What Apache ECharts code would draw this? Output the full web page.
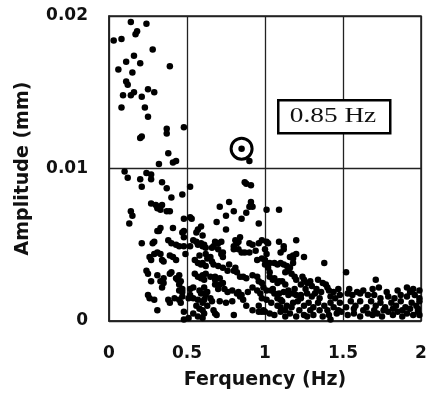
<!DOCTYPE html>
<html>
<head>
<meta charset="utf-8">
<script src="https://cdn.jsdelivr.net/npm/echarts@6/dist/echarts.min.js"></script>
<style>html,body{margin:0;padding:0;background:#fff;}#chart{width:430px;height:403px;}</style>
</head>
<body>
<div id="chart"></div>
<script>
// [frequency (Hz), amplitude (mm)]
var bandBelow05 = [
[0.14,0.0196],[0.24,0.0195],[0.18,0.0190],[0.17,0.0188],[0.03,0.0184],[0.08,0.0185],[0.28,0.0178],[0.16,0.0174],[0.11,0.0170],[0.20,0.0169],[0.39,0.0167],[0.06,0.0165],[0.15,0.0163],[0.11,0.0157],[0.12,0.0155],[0.25,0.0152],[0.29,0.0150],[0.16,0.0150],[0.14,0.0148],[0.09,0.0148],[0.21,0.0147],[0.08,0.0140],[0.23,0.0140],[0.25,0.0134],
[0.37,0.0126],[0.37,0.0123],[0.48,0.0127],[0.21,0.0121],[0.20,0.0120],[0.38,0.0110],[0.43,0.0105],[0.41,0.0104],[0.32,0.0103],
[0.10,0.0098],[0.12,0.0094],[0.24,0.0097],[0.27,0.0096],[0.27,0.0093],[0.20,0.0093],[0.34,0.0091],[0.37,0.0087],[0.21,0.0088],[0.47,0.0083],[0.40,0.0081],
[0.27,0.0077],[0.30,0.0076],[0.32,0.0075],[0.34,0.0076],[0.31,0.0074],[0.33,0.0073],[0.39,0.0072],[0.37,0.0072],[0.14,0.0072],[0.15,0.0069],[0.48,0.0067],[0.13,0.0064],
[0.32,0.0059],[0.31,0.0059],[0.41,0.0061],[0.48,0.0059],[0.33,0.0061],[0.48,0.0055],[0.47,0.0058],
[0.21,0.0051],[0.28,0.0051],[0.29,0.0052],[0.38,0.0053],[0.40,0.0051],[0.43,0.0050],[0.45,0.0049],[0.48,0.0049],
[0.31,0.0045],[0.33,0.0044],[0.29,0.0044],[0.26,0.0042],[0.27,0.0040],[0.39,0.0043],[0.41,0.0042],[0.43,0.0040],[0.34,0.0040],[0.35,0.0039],[0.49,0.0044],
[0.24,0.0033],[0.25,0.0031],[0.31,0.0030],[0.39,0.0031],[0.40,0.0032],[0.45,0.0030],[0.44,0.0027],[0.46,0.0026],[0.35,0.0028],[0.43,0.0028],
[0.27,0.0026],[0.33,0.0026],[0.35,0.0025],[0.34,0.0022],[0.45,0.0024],[0.47,0.0021],[0.45,0.0020],[0.47,0.0019],
[0.25,0.0017],[0.26,0.0015],[0.29,0.0014],[0.38,0.0014],[0.42,0.0015],[0.45,0.0014],[0.47,0.0016],[0.39,0.0012],[0.46,0.0012],
[0.31,0.0007],[0.48,0.0006],[0.48,0.0001]
];
var band05to1 = [
[0.52,0.0088],[0.52,0.0068],[0.53,0.0067],[0.87,0.0091],[0.88,0.0090],[0.91,0.0089],[0.90,0.0105],[0.91,0.0078],[0.91,0.0076],[0.90,0.0075],[0.92,0.0075],[0.77,0.0078],[0.71,0.0075],[0.80,0.0072],[0.75,0.0069],[0.69,0.0065],[0.85,0.0067],[0.88,0.0071],[0.96,0.0064],[0.75,0.0060],[0.59,0.0062],[0.57,0.0060],[0.60,0.0056],[0.84,0.0055],[0.56,0.0058],
[0.81,0.0053],[0.83,0.0052],[0.82,0.0051],[0.90,0.0051],[0.92,0.0050],[0.96,0.0051],[0.61,0.0050],[0.67,0.0049],[0.70,0.0051],[0.72,0.0052],[0.80,0.0047],[0.85,0.0045],[0.87,0.0045],[0.90,0.0045],[0.94,0.0046],
[0.58,0.0043],[0.62,0.0044],[0.65,0.0042],[0.72,0.0044],[0.73,0.0042],
[0.67,0.0037],[0.70,0.0036],[0.73,0.0035],[0.76,0.0033],[0.77,0.0037],[0.80,0.0033],[0.82,0.0032],[0.84,0.0029],[0.86,0.0029],[0.88,0.0028],[0.62,0.0031],[0.65,0.0029],[0.68,0.0027],[0.95,0.0029],[0.96,0.0026],[0.98,0.0025],
[0.71,0.0024],[0.74,0.0021],[0.76,0.0019],[0.79,0.0020],[0.83,0.0019],[0.84,0.0016],[0.92,0.0022],[0.95,0.0020],[0.97,0.0018],[0.98,0.0015],
[0.59,0.0018],[0.61,0.0014],[0.63,0.0010],[0.67,0.0007],[0.69,0.0004],[0.80,0.0004],[0.92,0.0007],[0.96,0.0006],[0.99,0.0007],[0.75,0.0012],[0.79,0.0013],[0.86,0.0014],[0.88,0.0010],
[0.56,0.0052],[0.59,0.0051],[0.52,0.0049],[0.55,0.0040],[0.57,0.0038],[0.60,0.0038],[0.62,0.0036],[0.55,0.0031],[0.57,0.0029],[0.60,0.0030],[0.52,0.0021],[0.54,0.0022],[0.58,0.0020],[0.61,0.0022],[0.51,0.0015],[0.52,0.0017],[0.56,0.0010],[0.58,0.0008],[0.60,0.0007],[0.54,0.0005],[0.57,0.0003],[0.60,0.0002],
[0.54,0.0053],[0.57,0.0050],[0.60,0.0049],[0.62,0.0048],[0.68,0.0052],[0.66,0.0048],[0.70,0.0047],[0.73,0.0045],[0.80,0.0049],[0.83,0.0047],[0.98,0.0053],
[0.59,0.0037],[0.63,0.0041],[0.66,0.0039],[0.81,0.0035],[0.92,0.0030],[0.95,0.0040],[0.98,0.0041],[0.59,0.0028],[0.61,0.0027],[0.68,0.0029],[0.71,0.0028],[0.73,0.0025],
[0.61,0.0018],[0.63,0.0019],[0.68,0.0024],[0.70,0.0021],[0.82,0.0018],[0.85,0.0017],[0.89,0.0019],
[0.54,0.0015],[0.57,0.0014],[0.60,0.0012],[0.62,0.0017],[0.65,0.0015],[0.66,0.0013],[0.71,0.0013],[0.61,0.0005],[0.68,0.0005],[0.96,0.0010],[0.98,0.0006],[0.51,0.0002],[0.99,0.0022]
];
var band1to15 = [
[1.01,0.0073],[1.09,0.0073],[1.01,0.0052],[1.02,0.0051],[1.09,0.0052],[1.12,0.0049],[1.20,0.0053],[1.00,0.0047],[1.01,0.0044],[1.16,0.0042],[1.18,0.0043],[1.20,0.0044],[1.00,0.0040],[1.01,0.0038],[1.02,0.0035],[1.03,0.0032],[1.06,0.0038],[1.10,0.0038],[1.12,0.0037],[1.14,0.0036],[1.15,0.0033],[1.17,0.0031],[1.19,0.0029],[1.20,0.0027],
[1.05,0.0027],[1.08,0.0025],[1.11,0.0026],[1.13,0.0024],[1.04,0.0020],[1.06,0.0018],[1.08,0.0015],[1.10,0.0014],[1.15,0.0020],[1.18,0.0018],[1.20,0.0017],[1.23,0.0015],
[1.10,0.0009],[1.13,0.0007],[1.20,0.0003],[1.25,0.0004],
[1.10,0.0045],[1.12,0.0047],[1.18,0.0041],[1.25,0.0042],[1.38,0.0038],[1.00,0.0037],[1.03,0.0038],[1.08,0.0037],[1.16,0.0035],[1.18,0.0038],[1.13,0.0032],[1.03,0.0029],[1.06,0.0028],[1.09,0.0026],[1.24,0.0029],[1.25,0.0027],[1.27,0.0025],[1.29,0.0026],[1.34,0.0027],[1.37,0.0025],[1.40,0.0022],[1.41,0.0020],[1.39,0.0024],
[1.01,0.0020],[1.05,0.0021],[1.09,0.0018],[1.12,0.0019],[1.15,0.0017],[1.23,0.0017],[1.27,0.0018],[1.30,0.0016],[1.32,0.0018],[1.35,0.0015],[1.42,0.0016],[1.45,0.0015],[1.48,0.0017],
[1.01,0.0014],[1.04,0.0012],[1.08,0.0010],[1.11,0.0013],[1.14,0.0010],[1.17,0.0009],[1.21,0.0013],[1.25,0.0010],[1.28,0.0012],[1.31,0.0009],[1.34,0.0012],[1.38,0.0010],[1.42,0.0012],[1.44,0.0009],[1.48,0.0012],
[1.27,0.0003],[1.31,0.0004],[1.37,0.0003],[1.41,0.0004],[1.42,0.0001],[1.00,0.0006],[1.03,0.0005],[1.06,0.0004],[1.10,0.0006],[1.13,0.0003],[1.16,0.0005],[1.46,0.0005],[1.49,0.0006],
[1.19,0.0021],[1.26,0.0021],[1.33,0.0021],[1.44,0.0019],[1.36,0.0019],[1.22,0.0007],[1.29,0.0007],[1.35,0.0007],[1.40,0.0007],[1.47,0.0007],[1.18,0.0012],[1.23,0.0024],[1.30,0.0023],[1.47,0.0021]
];
var band15to2 = [
[1.52,0.0032],[1.71,0.0027],[1.73,0.0022],[1.91,0.0022],[1.95,0.0021],[1.99,0.0020],
[1.53,0.0018],[1.56,0.0017],[1.59,0.0019],[1.61,0.0018],[1.66,0.0017],[1.70,0.0017],[1.74,0.0015],[1.79,0.0016],[1.83,0.0015],[1.87,0.0017],[1.91,0.0016],[1.96,0.0017],[1.99,0.0015],
[1.52,0.0009],[1.55,0.0013],[1.58,0.0010],[1.61,0.0013],[1.65,0.0009],[1.68,0.0013],[1.71,0.0010],[1.74,0.0012],[1.77,0.0009],[1.81,0.0012],[1.84,0.0010],[1.87,0.0013],[1.90,0.0009],[1.94,0.0012],[1.97,0.0010],[1.99,0.0013],
[1.53,0.0004],[1.57,0.0005],[1.61,0.0003],[1.66,0.0005],[1.69,0.0004],[1.72,0.0005],[1.75,0.0003],[1.79,0.0006],[1.82,0.0004],[1.85,0.0006],[1.88,0.0003],[1.91,0.0005],[1.95,0.0004],[1.98,0.0006],[1.99,0.0004],
[1.54,0.0021],[1.63,0.0020],[1.69,0.0021],[1.78,0.0019],[1.85,0.0020],[1.93,0.0019],[1.57,0.0008],[1.63,0.0007],[1.70,0.0007],[1.76,0.0007],[1.82,0.0008],[1.88,0.0007],[1.93,0.0008],[1.98,0.0008]
];
var highlightPoint = [[0.85, 0.0113]];
var annotationText = '0.85 Hz';
var xTicks = {min: 0, max: 2, interval: 0.5};
var yTicks = {min: 0, max: 0.02, interval: 0.01};

var allPoints = bandBelow05.concat(band05to1, band1to15, band15to2, highlightPoint);

var chart = echarts.init(document.getElementById('chart'), null, {renderer: 'canvas'});
var lblFont = {color: '#111', fontFamily: 'DejaVu Sans', fontWeight: 'bold', fontSize: 17};
chart.setOption({
  animation: false,
  backgroundColor: '#fff',
  grid: {left: 109, right: 9, top: 16, bottom: 82, show: true, borderColor: '#222', borderWidth: 1.5, outerBoundsMode: 'none', containLabel: false},
  xAxis: {
    type: 'value', min: xTicks.min, max: xTicks.max, interval: xTicks.interval,
    name: 'Ferquency (Hz)', nameLocation: 'middle', nameGap: 50,
    nameTextStyle: {color: '#111', fontFamily: 'DejaVu Sans', fontWeight: 'bold', fontSize: 19},
    axisLine: {lineStyle: {color: '#222', width: 1.5}},
    axisTick: {show: false},
    axisLabel: Object.assign({margin: 24}, lblFont),
    splitLine: {show: true, lineStyle: {color: '#222', width: 1.3}}
  },
  yAxis: {
    type: 'value', min: yTicks.min, max: yTicks.max, interval: yTicks.interval,
    name: 'Amplitude (mm)', nameLocation: 'middle', nameGap: 76,
    nameTextStyle: {color: '#111', fontFamily: 'DejaVu Sans', fontWeight: 'bold', fontSize: 19},
    axisLine: {show: true, lineStyle: {color: '#222', width: 1.5}},
    axisTick: {show: false},
    axisLabel: Object.assign({margin: 21}, lblFont),
    splitLine: {show: true, lineStyle: {color: '#222', width: 1.3}}
  },
  series: [
    {type: 'scatter', data: allPoints, symbol: 'circle', symbolSize: 6.5, itemStyle: {color: '#000', opacity: 1}, z: 3},
    {type: 'scatter', data: highlightPoint, symbol: 'circle', symbolSize: 21,
     itemStyle: {color: 'rgba(0,0,0,0)', borderColor: '#000', borderWidth: 3, opacity: 1}, z: 4}
  ],
  graphic: [
    {type: 'rect', left: 277, top: 99, z: 100, shape: {width: 112, height: 33},
     style: {fill: '#fff', stroke: '#000', lineWidth: 2.5}},
    {type: 'text', x: 333, y: 116, z: 101, scaleX: 1.3, originX: 0, originY: 0,
     style: {text: annotationText, fill: '#111', font: '21px "Liberation Serif"', textAlign: 'center', textVerticalAlign: 'middle'}}
  ]
});
</script>
</body>
</html>
